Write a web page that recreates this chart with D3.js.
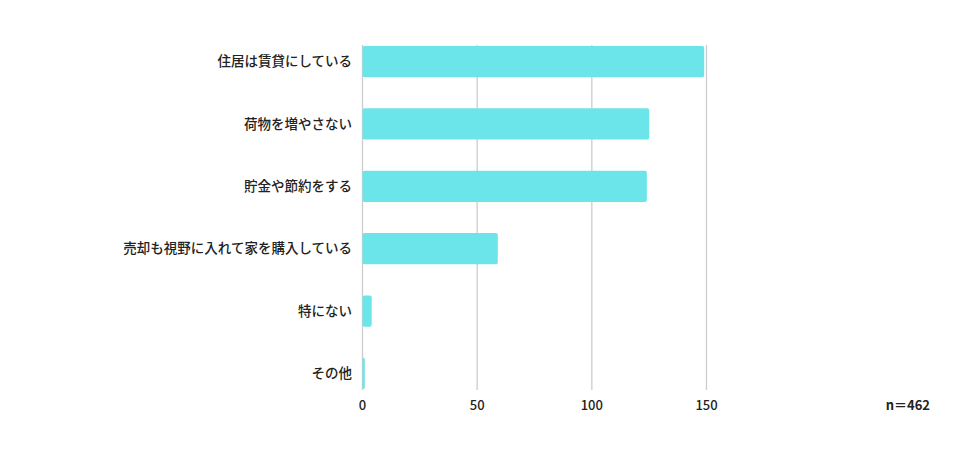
<!DOCTYPE html>
<html>
<head>
<meta charset="utf-8">
<script src="https://cdn.jsdelivr.net/npm/d3@7"></script>
<style>
  body { margin: 0; background: #fff; }
  text { font-family: "Noto Sans CJK JP", "Noto Sans", sans-serif; fill: #222; }
</style>
</head>
<body>
<script>
//categories and counts
var categories = ["住居は賃貸にしている", "荷物を増やさない", "貯金や節約をする",
    "売却も視野に入れて家を購入している", "特にない", "その他"];
var counts = [149, 125, 124, 59, 4, 1];
var ticks = [0, 50, 100, 150];
var note = "n＝462";

var width = 976,
    height = 459;

var svg = d3.select("body")
    .append("svg")
    .attr("width", width)
    .attr("height", height);

var x = d3.scaleLinear()
    .domain([0, 150])
    .range([362.5, 706.5]);

var y = d3.scaleBand()
    .domain(categories)
    .range([46, 389])
    .paddingInner(0.5)
    .paddingOuter(0);

//vertical gridlines
svg.selectAll(".grid")
    .data(ticks)
    .enter()
    .append("line")
    .attr("class", "grid")
    .attr("x1", function(d) { return x(d); })
    .attr("x2", function(d) { return x(d); })
    .attr("y1", 45)
    .attr("y2", 390)
    .attr("stroke", "#cccccc")
    .attr("stroke-width", 1.3);

//bars
svg.selectAll(".bar")
    .data(counts)
    .enter()
    .append("rect")
    .attr("class", "bar")
    .attr("x", x(0))
    .attr("y", function(d, i) { return y(categories[i]); })
    .attr("width", function(d) { return x(d) - x(0); })
    .attr("height", y.bandwidth())
    .attr("rx", 2)
    .attr("fill", "#6ce5ea");

//category labels
svg.selectAll(".cat")
    .data(categories)
    .enter()
    .append("text")
    .attr("class", "cat")
    .attr("x", 352)
    .attr("y", function(d) { return y(d) + y.bandwidth() / 2; })
    .attr("dy", "0.35em")
    .attr("text-anchor", "end")
    .style("font-size", "13.5px")
    .style("font-weight", 500)
    .text(function(d) { return d; });

//tick labels
svg.selectAll(".tick")
    .data(ticks)
    .enter()
    .append("text")
    .attr("class", "tick")
    .attr("x", function(d) { return x(d); })
    .attr("y", 405)
    .attr("dy", "0.35em")
    .attr("text-anchor", "middle")
    .style("font-size", "13px")
    .style("font-weight", 500)
    .text(function(d) { return d; });

//sample size
svg.append("text")
    .attr("x", 930)
    .attr("y", 405)
    .attr("dy", "0.35em")
    .attr("text-anchor", "end")
    .style("font-size", "13px")
    .style("font-weight", "bold")
    .text(note);
</script>
</body>
</html>
